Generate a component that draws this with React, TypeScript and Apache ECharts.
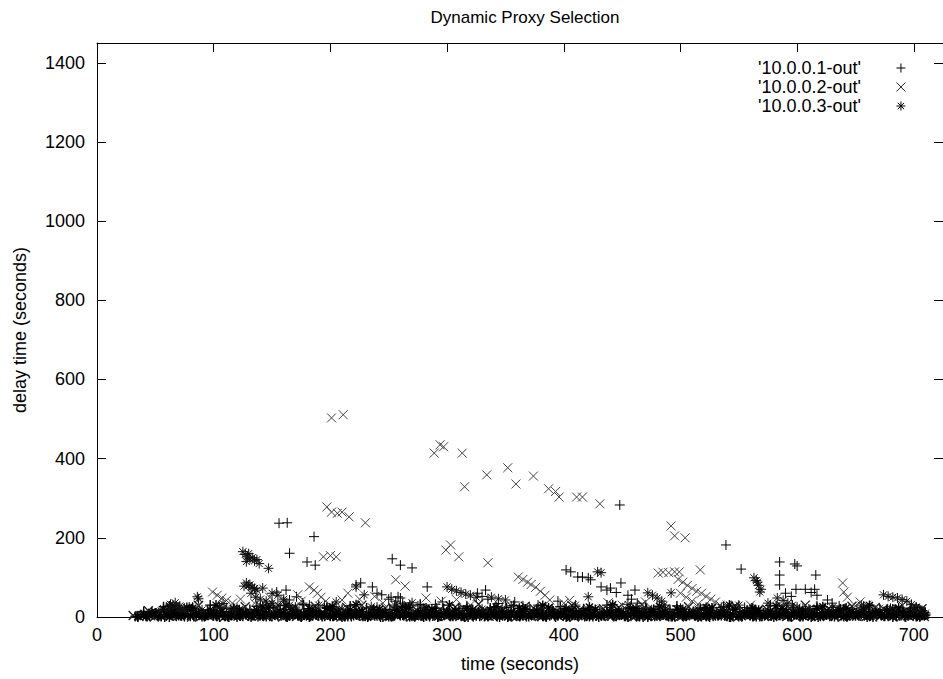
import React, { useEffect, useRef } from "react";
import * as echarts from "echarts";

const seriesNames = ["'10.0.0.1-out'", "'10.0.0.2-out'", "'10.0.0.3-out'"];
const xTicks = [0, 100, 200, 300, 400, 500, 600, 700];
const yTicks = [0, 200, 400, 600, 800, 1000, 1200, 1400];

// '10.0.0.1-out' (+)
const plusBand = [
  [33, 2], [38, 5], [43, 1], [48, 7], [53, 3], [58, 0], [63, 6], [68, 2], [73, 9], [78, 4],
  [83, 1], [88, 6], [93, 3], [98, 8], [103, 2], [108, 5], [113, 0], [118, 7], [123, 3], [128, 10],
  [133, 4], [138, 1], [143, 6], [148, 2], [153, 8], [158, 4], [163, 0], [168, 6], [173, 3], [178, 9],
  [183, 2], [188, 5], [193, 1], [198, 7], [203, 3], [208, 11], [213, 4], [218, 1], [223, 6], [228, 2],
  [233, 8], [238, 3], [243, 0], [248, 5], [253, 2], [258, 9], [263, 4], [268, 1], [273, 7], [278, 3],
  [283, 10], [288, 4], [293, 1], [298, 6], [303, 2], [308, 8], [313, 3], [318, 0], [323, 5], [328, 2],
  [333, 9], [338, 4], [343, 1], [348, 7], [353, 3], [358, 10], [363, 4], [368, 1], [373, 6], [378, 2],
  [383, 8], [388, 3], [393, 0], [398, 5], [403, 2], [408, 9], [413, 4], [418, 1], [423, 7], [428, 3],
  [433, 11], [438, 4], [443, 1], [448, 6], [453, 2], [458, 8], [463, 3], [468, 0], [473, 5], [478, 2],
  [483, 9], [488, 4], [493, 1], [498, 7], [503, 3], [508, 10], [513, 4], [518, 1], [523, 6], [528, 2],
  [533, 8], [538, 3], [543, 0], [548, 5], [553, 2], [558, 9], [563, 4], [568, 1], [573, 7], [578, 3],
  [583, 10], [588, 4], [593, 1], [598, 6], [603, 2], [608, 8], [613, 3], [618, 0], [623, 5], [628, 2],
  [633, 9], [638, 4], [643, 1], [648, 7], [653, 3], [658, 10], [663, 4], [668, 1], [673, 6], [678, 2],
  [683, 8], [688, 3], [693, 0], [698, 5], [703, 2], [708, 7],
];
const plusBand2 = [
  [40, 14], [51, 9], [61, 18], [71, 12], [81, 20], [91, 8], [101, 16], [111, 22], [121, 11], [131, 19],
  [141, 13], [151, 24], [161, 10], [171, 17], [181, 21], [191, 12], [201, 18], [211, 9], [221, 15], [231, 23],
  [241, 11], [251, 19], [261, 14], [271, 8], [281, 17], [291, 22], [301, 12], [311, 16], [321, 20], [331, 10],
  [341, 14], [351, 24], [361, 13], [371, 18], [381, 9], [391, 15], [401, 21], [411, 11], [421, 17], [431, 13],
  [441, 19], [451, 10], [461, 16], [471, 22], [481, 12], [491, 18], [501, 9], [511, 14], [521, 20], [531, 11],
  [541, 17], [551, 13], [561, 23], [571, 10], [581, 15], [591, 19], [601, 12], [611, 18], [621, 9], [631, 16],
  [641, 21], [651, 11], [661, 14], [671, 19], [681, 10], [691, 15], [701, 12],
];
const plusBand3 = [
  [35, 0], [45, 4], [55, 2], [65, 5], [75, 1], [85, 3], [95, 6], [105, 0], [115, 4], [125, 2],
  [135, 5], [145, 1], [155, 3], [165, 6], [175, 0], [185, 4], [195, 2], [205, 5], [215, 1], [225, 3],
  [235, 6], [245, 0], [255, 4], [265, 2], [275, 5], [285, 1], [295, 3], [305, 6], [315, 0], [325, 4],
  [335, 2], [345, 5], [355, 1], [365, 3], [375, 6], [385, 0], [395, 4], [405, 2], [415, 5], [425, 1],
  [435, 3], [445, 6], [455, 0], [465, 4], [475, 2], [485, 5], [495, 1], [505, 3], [515, 6], [525, 0],
  [535, 4], [545, 2], [555, 5], [565, 1], [575, 3], [585, 6], [595, 0], [605, 4], [615, 2], [625, 5],
  [635, 1], [645, 3], [655, 6], [665, 0], [675, 4], [685, 2], [695, 5], [705, 1],
];
const plusBand4 = [
  [57, 26], [77, 18], [97, 30], [117, 22], [137, 27], [157, 19], [177, 31], [197, 24], [217, 28], [237, 17],
  [257, 25], [277, 32], [297, 20], [317, 27], [337, 23], [357, 29], [377, 18], [397, 26], [417, 21], [437, 30],
  [457, 24], [477, 19], [497, 28], [517, 22], [537, 26], [557, 17], [577, 29], [597, 23], [617, 27], [637, 20],
  [657, 25], [677, 18], [697, 22],
];
const plusMid = [
  [79, 25], [82, 25], [95, 18], [120, 22], [145, 30], [170, 20], [195, 28], [215, 18], [240, 25], [265, 20],
  [290, 32], [310, 22], [340, 18], [365, 28], [390, 20], [410, 26], [475, 18], [500, 22], [525, 16], [555, 24],
  [575, 18], [605, 22], [640, 20], [665, 16], [690, 14], [252, 50], [256, 40], [262, 35], [268, 30], [275, 28],
  [326, 60], [330, 52], [335, 45], [236, 76], [240, 60], [250, 45], [296, 38], [344, 34], [378, 30], [395, 40],
];
const plusHigh = [
  [156, 237], [163, 238], [186, 203], [165, 161], [180, 139], [187, 131], [253, 147], [260, 131], [270, 124],
  [448, 283], [539, 182], [552, 121], [585, 139], [598, 134], [600, 129], [585, 106], [616, 106],
  [402, 119], [406, 114], [412, 101], [416, 101], [421, 99], [423, 94], [440, 73], [449, 86], [461, 68],
  [470, 25], [283, 76], [626, 43], [432, 76], [437, 68], [445, 62], [455, 55], [458, 45], [463, 35],
  [585, 81], [599, 70], [607, 70], [612, 62], [615, 70], [617, 55], [258, 51], [260, 48], [333, 68],
  [358, 38], [154, 63], [162, 68], [171, 51], [176, 35], [182, 30], [165, 43], [222, 81], [226, 86],
  [244, 56], [630, 35], [636, 28], [590, 60], [595, 52],
];

// '10.0.0.2-out' (x)
const crossBand = [
  [31, 4], [36, 1], [41, 7], [46, 3], [51, 9], [56, 2], [61, 5], [66, 12], [71, 3], [76, 7],
  [81, 0], [86, 5], [91, 10], [96, 2], [101, 6], [106, 1], [111, 8], [116, 4], [121, 11], [126, 2],
  [131, 6], [136, 3], [141, 9], [146, 1], [151, 5], [156, 12], [161, 3], [166, 7], [171, 1], [176, 5],
  [181, 9], [186, 2], [191, 6], [196, 3], [201, 10], [206, 1], [211, 5], [216, 8], [221, 3], [226, 11],
  [231, 2], [236, 6], [241, 4], [246, 9], [251, 1], [256, 5], [261, 12], [266, 3], [271, 7], [276, 1],
  [281, 5], [286, 9], [291, 2], [296, 6], [301, 3], [306, 10], [311, 1], [316, 5], [321, 8], [326, 3],
  [331, 11], [336, 2], [341, 6], [346, 4], [351, 9], [356, 1], [361, 5], [366, 12], [371, 3], [376, 7],
  [381, 1], [386, 5], [391, 9], [396, 2], [401, 6], [406, 3], [411, 10], [416, 1], [421, 5], [426, 8],
  [431, 3], [436, 11], [441, 2], [446, 6], [451, 4], [456, 9], [461, 1], [466, 5], [471, 12], [476, 3],
  [481, 7], [486, 1], [491, 5], [496, 9], [501, 2], [506, 6], [511, 3], [516, 10], [521, 1], [526, 5],
  [531, 8], [536, 3], [541, 11], [546, 2], [551, 6], [556, 4], [561, 9], [566, 1], [571, 5], [576, 12],
  [581, 3], [586, 7], [591, 1], [596, 5], [601, 9], [606, 2], [611, 6], [616, 3], [621, 10], [626, 1],
  [631, 5], [636, 8], [641, 3], [646, 11], [651, 2], [656, 6], [661, 4], [666, 9], [671, 1], [676, 5],
  [681, 12], [686, 3], [691, 7], [696, 1], [701, 5], [706, 9],
];
const crossBand2 = [
  [44, 16], [54, 11], [64, 21], [74, 13], [84, 18], [94, 9], [104, 23], [114, 14], [124, 19], [134, 10],
  [144, 17], [154, 22], [164, 12], [174, 15], [184, 20], [194, 11], [204, 16], [214, 24], [224, 13], [234, 18],
  [244, 9], [254, 21], [264, 14], [274, 17], [284, 12], [294, 19], [304, 10], [314, 22], [324, 15], [334, 13],
  [344, 20], [354, 11], [364, 17], [374, 23], [384, 12], [394, 16], [404, 9], [414, 19], [424, 14], [434, 21],
  [444, 12], [454, 17], [464, 10], [474, 15], [484, 22], [494, 13], [504, 18], [514, 11], [524, 20], [534, 14],
  [544, 9], [554, 17], [564, 12], [574, 19], [584, 15], [594, 22], [604, 10], [614, 16], [624, 13], [634, 20],
  [644, 11], [654, 18], [664, 14], [674, 21], [684, 12], [694, 17], [704, 10],
];
const crossBand3 = [
  [39, 3], [49, 0], [59, 5], [69, 2], [79, 6], [89, 1], [99, 4], [109, 0], [119, 3], [129, 6],
  [139, 2], [149, 5], [159, 0], [169, 4], [179, 1], [189, 6], [199, 3], [209, 0], [219, 5], [229, 2],
  [239, 4], [249, 1], [259, 6], [269, 0], [279, 3], [289, 5], [299, 1], [309, 4], [319, 0], [329, 6],
  [339, 2], [349, 5], [359, 0], [369, 3], [379, 1], [389, 4], [399, 6], [409, 0], [419, 3], [429, 5],
  [439, 1], [449, 4], [459, 0], [469, 6], [479, 2], [489, 5], [499, 0], [509, 3], [519, 1], [529, 4],
  [539, 6], [549, 0], [559, 3], [569, 5], [579, 1], [589, 4], [599, 0], [609, 6], [619, 2], [629, 5],
  [639, 0], [649, 3], [659, 1], [669, 4], [679, 6], [689, 0], [699, 3], [709, 1],
];
const crossBand4 = [
  [67, 24], [87, 29], [107, 19], [127, 26], [147, 31], [167, 21], [187, 27], [207, 18], [227, 30], [247, 23],
  [267, 28], [287, 20], [307, 25], [327, 32], [347, 19], [367, 27], [387, 22], [407, 29], [427, 18], [447, 24],
  [467, 31], [487, 20], [507, 26], [527, 23], [547, 28], [567, 19], [587, 25], [607, 30], [627, 21], [647, 27],
  [667, 24], [687, 19], [707, 21],
];
const crossMid = [
  [60, 15], [85, 22], [110, 28], [135, 35], [160, 25], [175, 40], [200, 30], [225, 45], [245, 35], [270, 22],
  [295, 40], [320, 30], [345, 25], [400, 35], [425, 20], [450, 30], [470, 38], [545, 20], [560, 30], [580, 15],
  [620, 25], [650, 28], [670, 20], [695, 15], [540, 30], [545, 25], [654, 38], [660, 30], [210, 43],
  [123, 45], [148, 50], [172, 56], [215, 60], [238, 52], [282, 48], [308, 44], [405, 42], [438, 36], [690, 30],
];
const crossHigh = [
  [201, 503], [211, 511], [289, 414], [294, 435], [297, 430], [313, 414], [315, 329], [334, 359], [352, 377],
  [359, 336], [374, 356], [387, 324], [393, 317], [396, 303], [411, 303], [416, 303], [431, 286], [492, 230],
  [495, 205], [504, 200], [197, 278], [201, 265], [206, 262], [210, 265], [216, 253], [230, 238], [194, 152],
  [200, 155], [205, 152], [299, 169], [303, 182], [310, 152], [335, 137], [256, 94], [264, 78], [517, 119],
  [481, 111], [485, 113], [490, 112], [495, 114], [499, 114], [639, 86], [640, 63], [643, 50],
  [361, 101], [365, 95], [369, 88], [372, 82], [376, 75], [380, 65], [384, 55], [388, 43],
  [498, 95], [502, 88], [506, 80], [510, 72], [514, 65], [518, 60], [522, 52], [526, 45], [530, 38], [534, 30],
  [500, 60], [505, 50], [510, 40], [515, 32], [520, 25], [182, 76], [186, 68], [189, 60], [192, 50], [196, 40],
  [99, 63], [103, 55], [107, 48], [111, 42], [116, 35],
];

// '10.0.0.3-out' (*)
const starBand = [
  [35, 1], [40, 6], [45, 3], [50, 10], [55, 2], [60, 7], [65, 13], [70, 4], [75, 9], [80, 2],
  [85, 6], [90, 1], [95, 8], [100, 4], [105, 11], [110, 2], [115, 6], [120, 0], [125, 7], [130, 3],
  [135, 12], [140, 4], [145, 8], [150, 1], [155, 6], [160, 10], [165, 3], [170, 7], [175, 1], [180, 5],
  [185, 11], [190, 3], [195, 8], [200, 2], [205, 6], [210, 0], [215, 9], [220, 4], [225, 12], [230, 2],
  [235, 7], [240, 3], [245, 10], [250, 1], [255, 6], [260, 4], [265, 11], [270, 2], [275, 8], [280, 0],
  [285, 5], [290, 9], [295, 3], [300, 12], [305, 2], [310, 6], [315, 1], [320, 8], [325, 4], [330, 10],
  [335, 2], [340, 7], [345, 0], [350, 5], [355, 11], [360, 3], [365, 8], [370, 1], [375, 6], [380, 9],
  [385, 2], [390, 12], [395, 4], [400, 7], [405, 1], [410, 5], [415, 10], [420, 3], [425, 8], [430, 0],
  [435, 6], [440, 11], [445, 2], [450, 7], [455, 4], [460, 9], [465, 1], [470, 5], [475, 12], [480, 3],
  [485, 8], [490, 1], [495, 6], [500, 10], [505, 2], [510, 7], [515, 0], [520, 5], [525, 9], [530, 3],
  [535, 11], [540, 2], [545, 6], [550, 1], [555, 8], [560, 4], [565, 10], [570, 2], [575, 7], [580, 0],
  [585, 5], [590, 12], [595, 3], [600, 8], [605, 1], [610, 6], [615, 9], [620, 2], [625, 7], [630, 4],
  [635, 11], [640, 1], [645, 6], [650, 3], [655, 9], [660, 0], [665, 5], [670, 10], [675, 2], [680, 7],
  [685, 4], [690, 12], [695, 3], [700, 8], [705, 1], [710, 5],
];
const starBand2 = [
  [47, 12], [57, 20], [67, 15], [77, 24], [87, 11], [97, 18], [107, 14], [117, 21], [127, 10], [137, 17],
  [147, 23], [157, 13], [167, 19], [177, 9], [187, 16], [197, 22], [207, 12], [217, 18], [227, 14], [237, 20],
  [247, 11], [257, 17], [267, 24], [277, 13], [287, 19], [297, 10], [307, 15], [317, 21], [327, 12], [337, 18],
  [347, 14], [357, 9], [367, 20], [377, 16], [387, 23], [397, 11], [407, 17], [417, 13], [427, 19], [437, 10],
  [447, 15], [457, 22], [467, 12], [477, 18], [487, 14], [497, 20], [507, 9], [517, 16], [527, 23], [537, 13],
  [547, 19], [557, 11], [567, 17], [577, 14], [587, 21], [597, 10], [607, 15], [617, 22], [627, 12], [637, 18],
  [647, 14], [657, 20], [667, 11], [677, 17], [687, 23], [697, 13], [707, 16],
];
const starBand3 = [
  [42, 2], [52, 5], [62, 0], [72, 3], [82, 6], [92, 1], [102, 4], [112, 2], [122, 5], [132, 0],
  [142, 3], [152, 6], [162, 1], [172, 4], [182, 0], [192, 5], [202, 2], [212, 3], [222, 6], [232, 0],
  [242, 4], [252, 1], [262, 5], [272, 2], [282, 3], [292, 0], [302, 6], [312, 2], [322, 4], [332, 1],
  [342, 5], [352, 0], [362, 3], [372, 6], [382, 2], [392, 4], [402, 0], [412, 5], [422, 1], [432, 3],
  [442, 6], [452, 2], [462, 4], [472, 0], [482, 5], [492, 1], [502, 3], [512, 6], [522, 2], [532, 4],
  [542, 0], [552, 5], [562, 1], [572, 3], [582, 6], [592, 2], [602, 4], [612, 0], [622, 5], [632, 1],
  [642, 3], [652, 6], [662, 2], [672, 4], [682, 0], [692, 5], [702, 1], [709, 3],
];
const starBand4 = [
  [62, 28], [82, 22], [102, 30], [122, 18], [142, 25], [162, 29], [182, 21], [202, 26], [222, 31], [242, 19],
  [262, 27], [282, 23], [302, 30], [322, 18], [342, 26], [362, 22], [382, 29], [402, 20], [422, 25], [442, 31],
  [462, 21], [482, 27], [502, 19], [522, 24], [542, 30], [562, 22], [582, 28], [602, 18], [622, 26], [642, 23],
  [662, 29], [682, 20], [702, 24],
];
const starMid = [
  [55, 15], [62, 20], [65, 30], [68, 25], [70, 22], [72, 18], [75, 22], [90, 18], [105, 25], [118, 20],
  [140, 28], [165, 24], [190, 30], [210, 20], [235, 26], [255, 30], [280, 22], [330, 20], [355, 28], [380, 22],
  [410, 30], [440, 24], [455, 32], [515, 20], [535, 24], [550, 30], [575, 35], [610, 20], [630, 24], [655, 30],
  [680, 22], [700, 18], [132, 60], [136, 50], [140, 45], [145, 40], [150, 35], [155, 30], [160, 40], [165, 30],
  [170, 25], [150, 60], [155, 55], [160, 45], [63, 32], [67, 36], [71, 28], [108, 34], [205, 38], [270, 36],
];
const starHigh = [
  [125, 165], [127, 158], [129, 152], [131, 147], [133, 150], [135, 142], [137, 145], [139, 135], [128, 140],
  [130, 160], [147, 123], [128, 86], [130, 80], [131, 81], [133, 75], [135, 72], [137, 68], [126, 78],
  [87, 46], [86, 51], [142, 73], [222, 76], [229, 56], [429, 114], [432, 112], [300, 76], [304, 70],
  [308, 66], [312, 62], [316, 58], [320, 55], [325, 50], [338, 50], [344, 46], [350, 43], [421, 51],
  [563, 99], [565, 92], [566, 88], [567, 80], [569, 70], [568, 63], [583, 48], [588, 42], [592, 35],
  [596, 30], [600, 25], [472, 61], [476, 55], [480, 48], [484, 40], [486, 30], [492, 61], [674, 56],
  [678, 52], [682, 50], [686, 48], [690, 44], [694, 40], [698, 32], [702, 25], [706, 18], [710, 10],
];

const FONT = "'Liberation Sans', Arial, Helvetica, sans-serif";
const PLUS = "path://M5,0L5,10M0,5L10,5";
const CROSS = "path://M0,0L10,10M10,0L0,10";
const STAR = "path://M5,0L5,10M0,5L10,5M1.5,1.5L8.5,8.5M8.5,1.5L1.5,8.5";

export default function App() {
  const ref = useRef<HTMLDivElement>(null);
  useEffect(() => {
    if (!ref.current) return;
    const chart = echarts.init(ref.current, null, { renderer: "svg" });
    const tickFmt = (list: number[]) => (v: number) => (list.indexOf(v) >= 0 ? String(v) : "");
    const mk = (name: string, data: number[][], symbol: string, color: string, size: number, width: number) => ({
      type: "scatter",
      name,
      data,
      symbol,
      symbolSize: size,
      itemStyle: { color: "none", borderColor: color, borderWidth: width, opacity: 1 },
      emphasis: { disabled: true },
    });
    chart.setOption({
      animation: false,
      backgroundColor: "#fff",
      textStyle: { fontFamily: FONT },
      title: {
        text: "Dynamic Proxy Selection",
        left: 520,
        textAlign: "center",
        top: 4,
        textStyle: { fontFamily: FONT, fontSize: 17, fontWeight: "normal", color: "#000" },
      },
      legend: {
        orient: "vertical",
        left: 753,
        top: 54,
        align: "right",
        itemWidth: 70,
        itemHeight: 9,
        itemGap: 1,
        symbolKeepAspect: true,
        data: seriesNames,
        itemStyle: { color: "none", borderWidth: 1 },
        textStyle: { fontFamily: FONT, fontSize: 18, color: "#000", lineHeight: 18 },
      },
      grid: { left: 97, top: 43, width: 849, height: 574, containLabel: false },
      xAxis: [
        {
          type: "value",
          min: 0,
          max: 725,
          interval: 100,
          position: "bottom",
          name: "time (seconds)",
          nameLocation: "middle",
          nameGap: 38,
          nameTextStyle: { fontFamily: FONT, fontSize: 18, color: "#000" },
          axisLine: { show: true, onZero: false, lineStyle: { color: "#000", width: 1 } },
          axisTick: { show: true, inside: true, length: 9, lineStyle: { color: "#000" } },
          axisLabel: { formatter: tickFmt(xTicks), fontFamily: FONT, fontSize: 18, color: "#000", margin: 9, showMaxLabel: false },
          splitLine: { show: false },
        },
        {
          type: "value",
          min: 0,
          max: 725,
          interval: 100,
          position: "top",
          axisLine: { show: true, onZero: false, lineStyle: { color: "#000", width: 1 } },
          axisTick: { show: true, inside: true, length: 9, lineStyle: { color: "#000" } },
          axisLabel: { show: false },
          splitLine: { show: false },
        },
      ],
      yAxis: [
        {
          type: "value",
          min: 0,
          max: 1450,
          interval: 200,
          position: "left",
          name: "delay time (seconds)",
          nameLocation: "middle",
          nameGap: 68,
          nameRotate: 90,
          nameTextStyle: { fontFamily: FONT, fontSize: 18, color: "#000" },
          axisLine: { show: true, onZero: false, lineStyle: { color: "#000", width: 1 } },
          axisTick: { show: true, inside: true, length: 9, lineStyle: { color: "#000" } },
          axisLabel: { formatter: tickFmt(yTicks), fontFamily: FONT, fontSize: 18, color: "#000", margin: 12, showMaxLabel: false },
          splitLine: { show: false },
        },
        {
          type: "value",
          min: 0,
          max: 1450,
          interval: 200,
          position: "right",
          axisLine: { show: true, onZero: false, lineStyle: { color: "#000", width: 1 } },
          axisTick: { show: true, inside: true, length: 9, lineStyle: { color: "#000" } },
          axisLabel: { show: false },
          splitLine: { show: false },
        },
      ],
      series: [
        mk(seriesNames[0], [...plusBand, ...plusBand2, ...plusBand3, ...plusBand4], PLUS, "#000", 10, 1.4),
        mk(seriesNames[0], [...plusMid, ...plusHigh], PLUS, "#000", 10, 1),
        mk(seriesNames[1], [...crossBand, ...crossBand2, ...crossBand3, ...crossBand4], CROSS, "#222", 9, 1.4),
        mk(seriesNames[1], [...crossMid, ...crossHigh], CROSS, "#444", 9, 1),
        mk(seriesNames[2], [...starBand, ...starBand2, ...starBand3, ...starBand4], STAR, "#000", 10, 1.4),
        mk(seriesNames[2], [...starMid, ...starHigh], STAR, "#111", 10, 1),
      ],
    });
    return () => chart.dispose();
  }, []);
  return <div ref={ref} style={{ position: "absolute", left: 0, top: 0, width: 943, height: 679 }} />;
}
